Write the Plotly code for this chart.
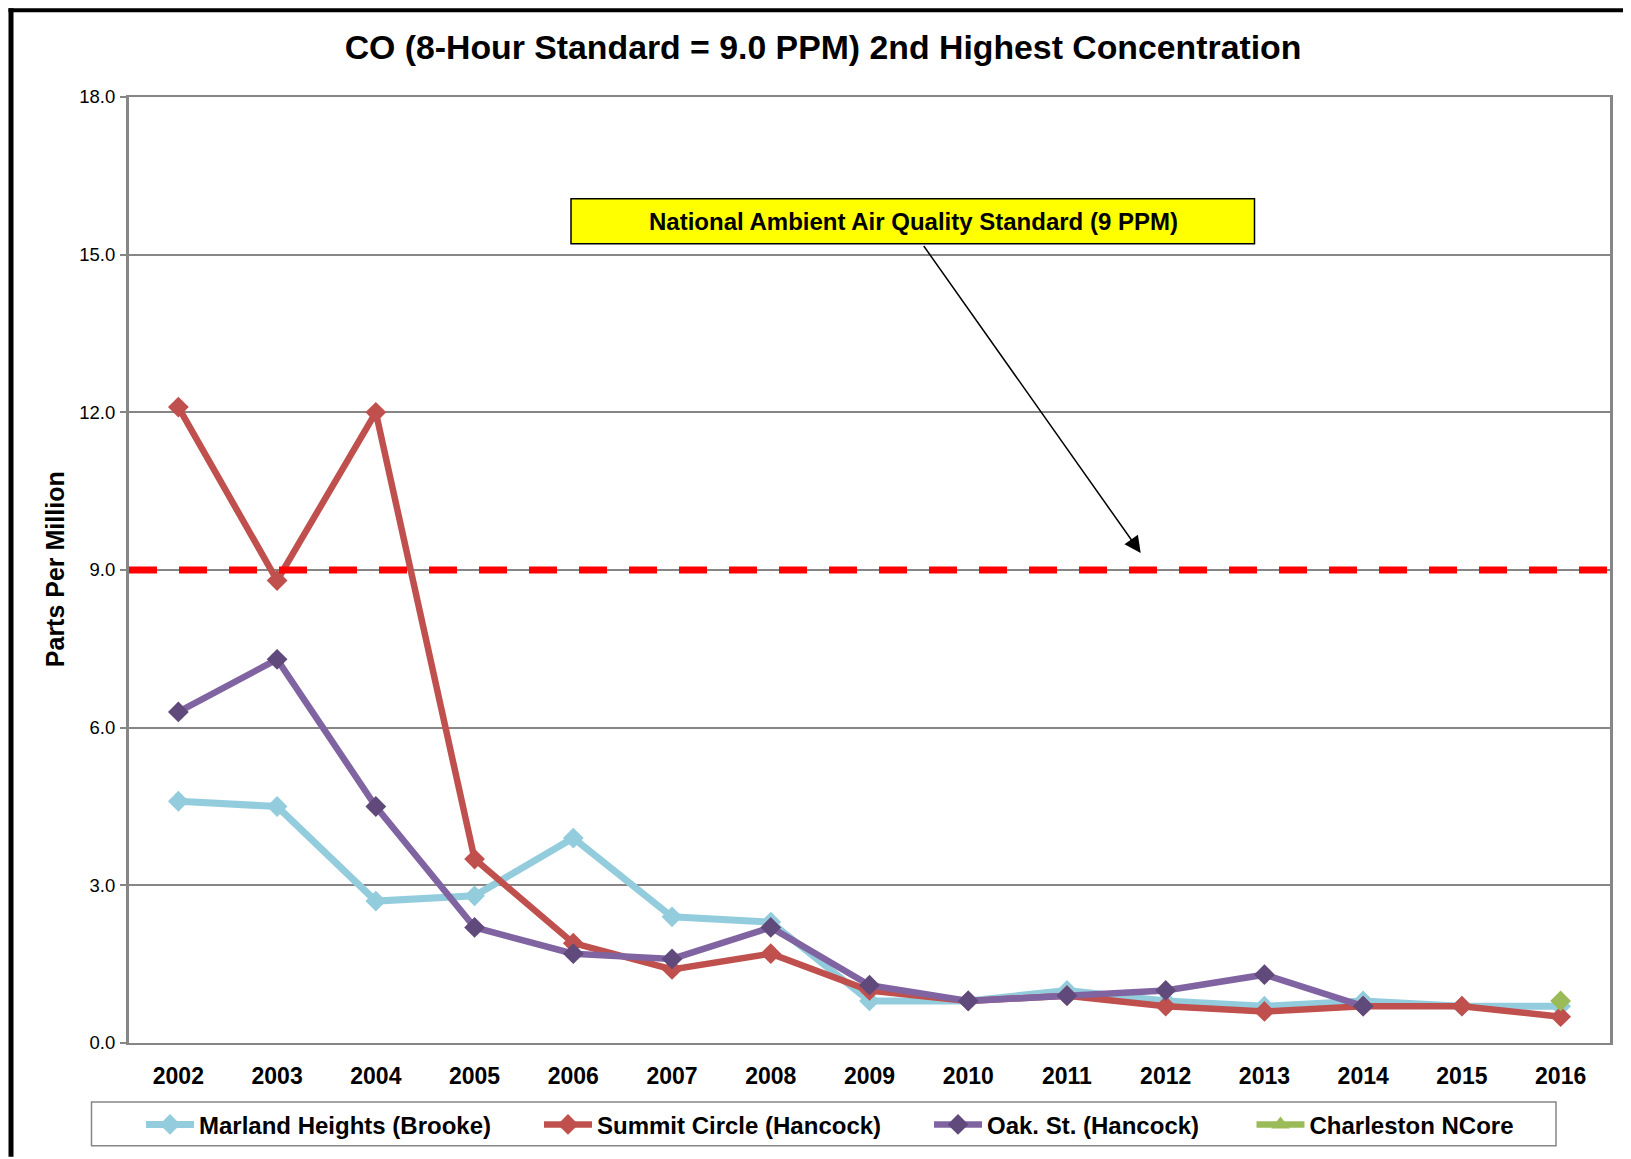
import plotly.graph_objects as go

# CO 8-hour 2nd highest values (ppm)
years = [str(y) for y in range(2002, 2017)]
marland = [4.6, 4.5, 2.7, 2.8, 3.9, 2.4, 2.3, 0.8, 0.8, 1.0, 0.8, 0.7, 0.8, 0.7, 0.7]
summit = [12.1, 8.8, 12.0, 3.5, 1.9, 1.4, 1.7, 1.0, 0.8, 0.9, 0.7, 0.6, 0.7, 0.7, 0.5]
oak = [6.3, 7.3, 4.5, 2.2, 1.7, 1.6, 2.2, 1.1, 0.8, 0.9, 1.0, 1.3, 0.7, None, None]
charleston = [None] * 14 + [0.8]
naaqs = 9.0

y_ticks = [0, 3, 6, 9, 12, 15, 18]

# the page body has an 8px margin, so the figure is shifted to compensate
OFF = 8
W, H = 1631 - OFF, 1159 - OFF
L, R, T, B = 129 - OFF, 21, 97 - OFF, 114
PW, PH = W - L - R, H - T - B


def px_x(p):
    return (p - OFF - L) / PW


def px_y(p):
    return (H - B - (p - OFF)) / PH


FONT = "Arial, Liberation Sans, sans-serif"

fig = go.Figure()

series = [
    ("Marland Heights (Brooke)", marland, "#93CDDD", "#93CDDD", 7, "legend"),
    ("Summit Circle (Hancock)", summit, "#C0504D", "#C0504D", 6.5, "legend2"),
    ("Oak. St. (Hancock)", oak, "#8064A2", "#604A7B", 6.5, "legend3"),
]
for name, vals, lc, mc, lw, lg in series:
    fig.add_trace(go.Scatter(
        x=years, y=vals, name=name, mode="lines+markers", legend=lg,
        line=dict(color=lc, width=lw),
        marker=dict(symbol="diamond", size=16, color=mc, line=dict(width=0)),
    ))

fig.add_trace(go.Scatter(
    x=years, y=charleston, name="Charleston NCore", mode="lines+markers",
    showlegend=False, line=dict(color="#9BBB59", width=6.5),
    marker=dict(symbol="diamond", size=16, color="#9BBB59", line=dict(width=0)),
))
# legend entry uses a triangle like the original
fig.add_trace(go.Scatter(
    x=[None], y=[None], name="Charleston NCore", mode="lines+markers", legend="legend4",
    line=dict(color="#9BBB59", width=6.5),
    marker=dict(symbol="triangle-up", size=16, color="#9BBB59", line=dict(width=0)),
))

# standard line
fig.add_shape(type="line", xref="paper", yref="y", x0=0, x1=1, y0=naaqs, y1=naaqs,
              line=dict(color="#FF0000", width=7, dash="28px,22px"))

# label box + arrow
fig.add_shape(type="rect", xref="paper", yref="paper",
              x0=px_x(571), x1=px_x(1254.5), y0=px_y(244), y1=px_y(199),
              fillcolor="#FFFF00", line=dict(color="#000000", width=1.5))
fig.add_annotation(xref="paper", yref="paper", x=px_x(913), y=px_y(221.5),
                   xanchor="center", yanchor="middle",
                   text="National Ambient Air Quality Standard (9 PPM)", showarrow=False,
                   font=dict(family=FONT, size=24, color="black", weight="bold"))
fig.add_annotation(xref="paper", yref="paper", x=px_x(1140.7), y=px_y(554),
                   ax=922.7 - 1140.7, ay=245.5 - 554, text="", showarrow=True,
                   arrowhead=2, arrowsize=2.2, arrowwidth=1.5, arrowcolor="black", standoff=0)

# y title
fig.add_annotation(xref="paper", yref="paper", x=px_x(54.7), y=px_y(570.5), textangle=-90,
                   xanchor="center", yanchor="middle",
                   text="Parts Per Million", showarrow=False,
                   font=dict(family=FONT, size=25, color="black", weight="bold"))

# legend frame
fig.add_shape(type="rect", xref="paper", yref="paper",
              x0=px_x(91.5), x1=px_x(1556), y0=px_y(1148), y1=px_y(1104),
              line=dict(color="#868686", width=1.5), fillcolor="rgba(0,0,0,0)")

# outer black frame (left and top edges), kept inside the figure area
fig.add_shape(type="line", xref="paper", yref="paper",
              x0=px_x(11), x1=px_x(11), y0=px_y(8), y1=px_y(1159),
              line=dict(color="black", width=5))
fig.add_shape(type="line", xref="paper", yref="paper",
              x0=px_x(8.5), x1=px_x(1631), y0=px_y(10), y1=px_y(10),
              line=dict(color="black", width=4))

legend_font = dict(family=FONT, size=24, color="black", weight="bold")
leg_common = dict(orientation="h", xanchor="left", yanchor="middle", y=px_y(1127),
                  bgcolor="rgba(0,0,0,0)", borderwidth=0, itemwidth=48, font=legend_font)
item_starts = [141, 539, 929, 1251.5]

fig.update_layout(
    width=W, height=H,
    margin=dict(l=L, r=R, t=T, b=B),
    paper_bgcolor="white", plot_bgcolor="white",
    title=dict(text="CO (8-Hour Standard = 9.0 PPM) 2nd Highest Concentration",
               x=(823 - OFF) / W, xanchor="center", y=1 - (47 - OFF) / H, yanchor="middle",
               font=dict(family=FONT, size=33.8, color="black", weight="bold")),
    xaxis=dict(type="category", range=[-0.5, 14.5], showgrid=False,
               showline=True, linecolor="#868686", linewidth=2, mirror=True,
               ticks="", ticklabelstandoff=11,
               tickfont=dict(family=FONT, size=23, color="black", weight="bold")),
    yaxis=dict(range=[0, 18], tickvals=y_ticks, tickformat=".1f",
               showgrid=True, gridcolor="#868686", gridwidth=2, zeroline=False,
               showline=True, linecolor="#868686", linewidth=3, mirror=True,
               ticks="outside", ticklen=6, tickwidth=2, tickcolor="#868686",
               ticklabelstandoff=1,
               tickfont=dict(family=FONT, size=18.5, color="black")),
    legend=dict(x=px_x(item_starts[0]), **leg_common),
    legend2=dict(x=px_x(item_starts[1]), **leg_common),
    legend3=dict(x=px_x(item_starts[2]), **leg_common),
    legend4=dict(x=px_x(item_starts[3]), **leg_common),
)

fig.write_html("out.html")
